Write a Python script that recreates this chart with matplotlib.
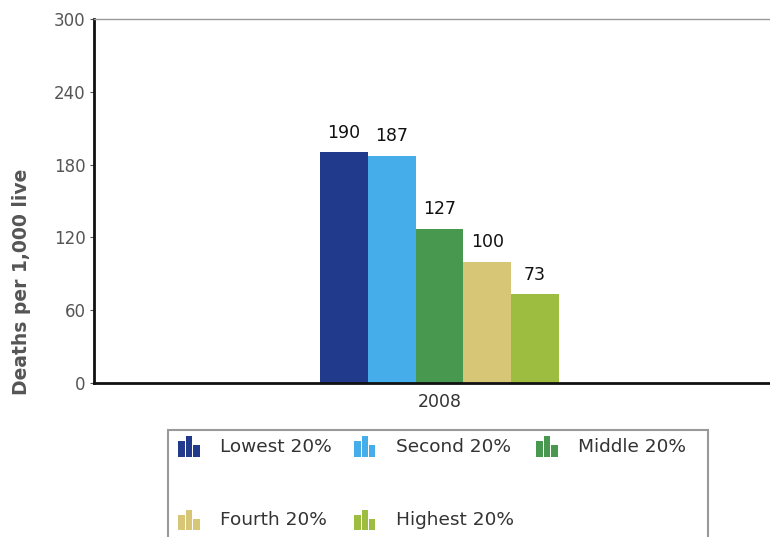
import matplotlib.pyplot as plt
from matplotlib.patches import Rectangle
from matplotlib.legend_handler import HandlerBase

groups = ["Lowest 20%", "Second 20%", "Middle 20%", "Fourth 20%", "Highest 20%"]
values = [190, 187, 127, 100, 73]
colors = ["#213a8c", "#45aeea", "#48994f", "#d6c676", "#9dbd40"]
year = "2008"


class BarIconHandler(HandlerBase):
    # little three-bar icon like the original legend
    def create_artists(self, legend, orig_handle, xdescent, ydescent,
                       width, height, fontsize, trans):
        c = orig_handle.get_facecolor()
        w = width / 3.0
        heights = [0.75, 1.0, 0.55]
        arts = []
        for i, h in enumerate(heights):
            r = Rectangle((-xdescent + i * w + 0.3, -ydescent - 0.1 * height), w - 0.6, h * height * 1.1,
                          facecolor=c, edgecolor="none", transform=trans)
            arts.append(r)
        return arts


fig = plt.figure(figsize=(7.7, 5.37), dpi=100)
ax = fig.add_axes([94 / 770, 1 - 383 / 537, 676 / 770, 364 / 537])

bw = 0.2
xs = [-0.4 + i * bw for i in range(len(values))]
bars = ax.bar(xs, values, width=bw, color=colors, linewidth=0)
for x, v in zip(xs, values):
    ax.text(x, v + 9, str(v), ha="center", va="bottom", fontsize=12.5, color="#111111")

ax.set_xlim(-1.446, 1.383)
ax.set_ylim(0, 300)
ax.set_yticks([0, 60, 120, 180, 240, 300])
ax.set_xticks([0])
ax.set_xticklabels([year])
ax.tick_params(axis="y", labelsize=12, labelcolor="#555555", length=3, color="#555555", pad=3)
ax.tick_params(axis="x", labelsize=12.5, labelcolor="#333333", length=0, pad=7)

ax.spines["left"].set_linewidth(2)
ax.spines["bottom"].set_linewidth(2)
ax.spines["left"].set_color("#111111")
ax.spines["bottom"].set_color("#111111")
ax.spines["top"].set_color("#999999")
ax.spines["top"].set_linewidth(1)
ax.spines["right"].set_visible(False)

fig.text(22 / 770, 1 - 282 / 537, "Deaths per 1,000 live", rotation=90, ha="center", va="center",
         fontsize=13.5, fontweight="bold", color="#555555")

# legend fills column by column, so reorder to get row-wise layout
order = [0, 3, 1, 4, 2]
handles = [Rectangle((0, 0), 1, 1, facecolor=colors[i]) for i in order]
labels = [groups[i] for i in order]
leg = fig.legend(handles, labels, loc="upper left", ncols=3,
                 bbox_to_anchor=(178 / 770, 1 - 436 / 537),
                 handler_map={Rectangle: BarIconHandler()},
                 fontsize=13.3, handlelength=1.19, handleheight=1.19, handletextpad=1.08,
                 columnspacing=1.2, labelspacing=2.92, borderpad=0, borderaxespad=0,
                 frameon=False, labelcolor="#333333")

# legend frame runs past the bottom edge in the original
fig.patches.append(Rectangle((168 / 770, -0.05), 540 / 770, 1 - 430 / 537 + 0.05,
                             transform=fig.transFigure, facecolor="none",
                             edgecolor="#999999", linewidth=1.5))

fig.savefig("out.png", dpi=100)
